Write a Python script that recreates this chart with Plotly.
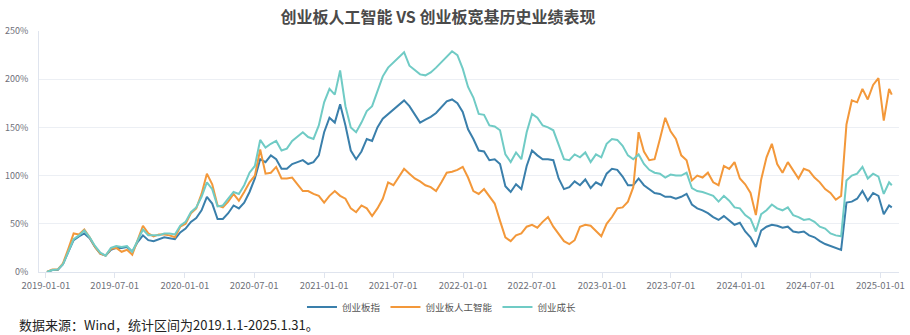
import pandas as pd
import plotly.graph_objects as go

# ---------------- data (cumulative return, %) ----------------
dates = list(pd.date_range("2019-01-04", periods=159, freq="14D")) + [pd.Timestamp("2025-01-31")]

chinext = [
    0, 2, 2, 8, 21, 33, 37, 40, 35, 26,
    19, 17, 23, 25, 25, 26, 21, 31, 38, 33,
    32, 34, 36, 35, 34, 41, 45, 52, 56, 64,
    78, 71, 55, 55, 61, 69, 66, 72, 83, 97,
    117, 114, 121, 117, 107, 107, 112, 114, 116, 112,
    114, 121, 145, 160, 155, 174, 152, 126, 117, 125,
    138, 136, 150, 159, 164, 169, 174, 178, 172, 163,
    155, 158, 161, 165, 171, 177, 179, 175, 166, 148,
    138, 126, 125, 116, 117, 112, 89, 83, 91, 86,
    110, 126, 121, 117, 117, 116, 97, 86, 88, 94,
    90, 96, 87, 93, 90, 102, 107, 106, 99, 90,
    90, 97, 90, 86, 82, 81, 78, 78, 76, 78,
    81, 70, 66, 64, 61, 57, 54, 58, 53, 49,
    51, 42, 36, 26, 43, 47, 49, 48, 46, 47,
    42, 41, 42, 38, 36, 32, 29, 27, 25, 23,
    72, 73, 76, 84, 74, 82, 79, 60, 69,
    67,
]

chinext_ai = [
    0, 2.5, 2.5, 9, 24, 40, 39, 44, 36, 26,
    19, 17, 24, 25, 21, 23, 18, 33, 48, 40,
    37, 39, 39, 38, 36, 47, 50, 61, 66, 81,
    102, 91, 69, 67, 73, 81, 74, 83, 93, 100,
    127, 102, 103, 109, 97, 97, 98, 91, 84, 84,
    81, 79, 72, 79, 84, 79, 76, 66, 62, 69,
    66, 58, 66, 76, 93, 90, 98, 107, 102, 97,
    94, 90, 88, 84, 93, 103, 104, 106, 109, 98,
    84, 81, 86, 79, 71, 53, 36, 32, 38, 40,
    47, 49, 46, 52, 57, 47, 40, 32, 29, 33,
    47, 49, 48, 43, 37, 50, 57, 66, 67, 73,
    88, 145, 125, 116, 117, 138, 160, 146, 138, 121,
    116, 95, 100, 98, 103, 93, 90, 110, 107, 114,
    97, 91, 82, 59, 96, 119, 133, 112, 103, 114,
    105, 97, 107, 105, 98, 93, 86, 82, 75, 79,
    153, 178, 176, 190, 179, 194, 201, 157, 190,
    184,
]

chinext_growth = [
    0, 2, 2.5, 8, 21, 34, 38, 43, 36, 27,
    20, 17, 25, 27, 26, 27, 21, 32, 44, 38,
    38, 38, 40, 40, 39, 48, 52, 62, 67, 78,
    93, 86, 68, 69, 76, 83, 81, 90, 103, 110,
    137, 129, 133, 136, 126, 128, 136, 141, 145, 140,
    138, 152, 176, 190, 184, 209, 172, 150, 145, 155,
    167, 172, 188, 203, 212, 217, 223, 228, 214, 209,
    205, 204, 207, 212, 218, 223, 229, 225, 211, 192,
    181, 164, 163, 152, 151, 147, 122, 114, 124, 117,
    145, 164, 160, 152, 150, 147, 133, 117, 116, 122,
    119, 124, 114, 122, 119, 133, 138, 137, 131, 121,
    117, 122, 112, 106, 103, 102, 98, 101, 100, 100,
    103, 87, 84, 83, 81, 79, 73, 79, 74, 67,
    66, 59, 55, 42, 60, 64, 70, 66, 64, 67,
    59, 57, 54, 55, 52, 47, 45, 40, 38, 37,
    95, 100, 102, 109, 97, 102, 99, 81, 93,
    90,
]

series_names = ["创业板指", "创业板人工智能", "创业成长"]
series_colors = ["#3a7fab", "#f3983a", "#70cbc5"]

x_ticks = ["2019-01-01", "2019-07-01", "2020-01-01", "2020-07-01", "2021-01-01",
           "2021-07-01", "2022-01-01", "2022-07-01", "2023-01-01", "2023-07-01",
           "2024-01-01", "2024-07-01", "2025-01-01"]
y_ticks = [0, 50, 100, 150, 200, 250]
y_tick_labels = [f"{v}%" for v in y_ticks]

FONT = "Noto Sans CJK SC, Microsoft YaHei, sans-serif"

fig = go.Figure()
for name, vals, color in zip(series_names, [chinext, chinext_ai, chinext_growth], series_colors):
    fig.add_trace(go.Scatter(x=dates, y=vals, mode="lines", name=name,
                             line=dict(color=color, width=2)))

fig.update_layout(
    width=910, height=335,
    margin=dict(l=36, r=5, t=31, b=63),
    paper_bgcolor="white", plot_bgcolor="white",
    font=dict(family=FONT),
    title=dict(text="<b>创业板人工智能 VS 创业板宽基历史业绩表现</b>",
               x=438 / 910, xanchor="center", xref="container",
               y=1 - 17 / 335, yanchor="middle", yref="container",
               font=dict(size=16, color="#4a4a4a", family=FONT)),
    legend=dict(orientation="h", x=0.468, xanchor="center",
                y=-0.145, yanchor="middle",
                font=dict(size=9.5, color="#555555", family=FONT),
                itemwidth=30, bgcolor="rgba(0,0,0,0)"),
    showlegend=True,
)

fig.update_xaxes(
    type="date", range=["2018-12-14", "2025-02-19"],
    tickvals=x_ticks, ticktext=x_ticks,
    tickfont=dict(size=9.5, color="#6e7079"),
    ticklabeloverflow="allow",
    showgrid=False, showline=True, linecolor="#dfe4ee", linewidth=1,
    ticks="outside", ticklen=5, tickcolor="#dfe4ee",
    zeroline=False,
)
fig.update_yaxes(
    range=[0, 250], tickvals=y_ticks, ticktext=y_tick_labels,
    tickfont=dict(size=9, color="#6e7079"),
    showgrid=True, gridcolor="#eceff4", gridwidth=1,
    showline=True, linecolor="#dfe4ee", linewidth=1,
    zeroline=False, ticks="", ticklabelstandoff=8,
)

fig.add_annotation(text="数据来源：Wind，统计区间为2019.1.1-2025.1.31。",
                   xref="paper", yref="paper", x=(14 - 36) / 869, y=(272 - 324) / 241,
                   xanchor="left", yanchor="middle", showarrow=False,
                   font=dict(size=13, color="#222222", family=FONT))

fig.write_html("out.html")
